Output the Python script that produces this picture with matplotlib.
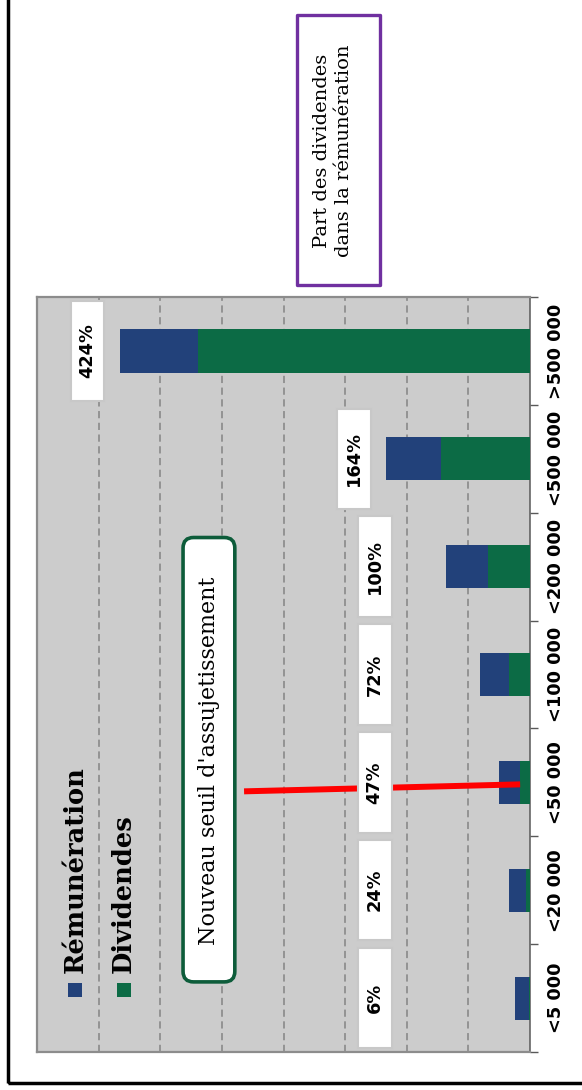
import numpy as np
import matplotlib
matplotlib.use("Agg")
import matplotlib.pyplot as plt
from matplotlib.patches import Rectangle, FancyBboxPatch

categories = ['<5 000', '<20 000', '<50 000', '<100 000', '<200 000', '<500 000', '>500 000']
remuneration = [0.23, 0.27, 0.34, 0.47, 0.68, 0.88, 1.27]
dividendes = [0.014, 0.065, 0.16, 0.34, 0.68, 1.45, 5.38]
parts = ['6%', '24%', '47%', '72%', '100%', '164%', '424%']

blue = '#22417a'
green = '#0c6b45'

fig = plt.figure(figsize=(5.82, 10.9), dpi=100)
ax = fig.add_axes([37 / 582, 38 / 1090, 493 / 582, 755 / 1090])
ax.set_facecolor('#cccccc')

y = np.arange(len(categories))
rem = np.array(remuneration)
div = np.array(dividendes)

# stacked bars, going left from the category axis
ax.barh(y, div, height=0.4, color=green, zorder=3)
ax.barh(y, rem, left=div, height=0.4, color=blue, zorder=3)

ax.set_xlim(8, 0)
ax.set_ylim(-0.5, len(categories) - 0.5)

# grid
ax.set_xticks(np.arange(1, 8))
ax.grid(axis='x', color='#8f8f8f', linestyle=(0, (4, 2.5)), linewidth=1.3, zorder=1)
ax.tick_params(axis='x', length=0, labelbottom=False)

# category axis on the right
ax.yaxis.tick_right()
ax.set_yticks(np.arange(-0.5, len(categories), 1))
ax.set_yticklabels([])
ax.set_yticks(y, minor=True)
ax.set_yticklabels(categories, minor=True, rotation=90, va='center',
                   fontsize=12.8, fontweight='bold', family='DejaVu Sans')
ax.tick_params(axis='y', which='major', length=6, width=1, color='#595959', direction='out')
ax.tick_params(axis='y', which='minor', length=0, pad=12)

for side in ['left', 'top', 'bottom']:
    ax.spines[side].set_color('#8c8c8c')
    ax.spines[side].set_linewidth(1.6)
ax.spines['right'].set_color('#595959')
ax.spines['right'].set_linewidth(1.1)

# percent labels
for i, p in enumerate(parts):
    lx = max(2.52, rem[i] + div[i] + 0.53)
    ax.add_patch(Rectangle((lx - 0.275, i - 0.465), 0.55, 0.93, facecolor='white',
                           edgecolor='#c8c8c8', linewidth=1.5, zorder=4))
    ax.text(lx, i, p, rotation=90, ha='center', va='center', fontsize=12.8,
            fontweight='bold', family='DejaVu Sans', zorder=5)

# threshold line
ax.plot([4.64, 0.16], [2 - 9 / 108, 2 - 2 / 108], color='red', linewidth=4.3,
        solid_capstyle='butt', zorder=3.5)

# annotation box
ax.add_patch(FancyBboxPatch((4.79, 0.15), 0.84, 4.12,
                            boxstyle='round,pad=0,rounding_size=0.17',
                            mutation_aspect=61.6 / 108, facecolor='white',
                            edgecolor='#0d5c3a', linewidth=2.6, zorder=4))
ax.text(5.21, 2.2, "Nouveau seuil d'assujetissement", rotation=90, ha='center',
        va='center', fontsize=16, family='DejaVu Serif', zorder=5)

# legend
ax.scatter([0.077, 0.176], [0.082, 0.082], marker='s', s=95, c=[blue, green],
           transform=ax.transAxes, zorder=5, clip_on=False, linewidths=0)
ax.text(0.078, 0.105, 'Rémunération', transform=ax.transAxes, rotation=90,
        ha='center', va='bottom', fontsize=18.5, fontweight='bold', family='DejaVu Serif')
ax.text(0.175, 0.105, 'Dividendes', transform=ax.transAxes, rotation=90,
        ha='center', va='bottom', fontsize=18.5, fontweight='bold', family='DejaVu Serif')

# title box
fig.add_artist(Rectangle((297 / 582, 805 / 1090), 83 / 582, 270 / 1090,
                         transform=fig.transFigure, fill=False, edgecolor='#7030a0',
                         linewidth=2.4, joinstyle='round'))
fig.text(0.572, 0.862, 'Part des dividendes\ndans la rémunération', rotation=90,
         ha='center', va='center', multialignment='center', fontsize=14,
         family='DejaVu Serif', linespacing=1.3)

# outer frame
fig.add_artist(Rectangle((8 / 582, 7 / 1090), 1.2, 1.2, transform=fig.transFigure,
                         fill=False, edgecolor='black', linewidth=2.5, clip_on=False))

fig.savefig('out.png', dpi=100)
